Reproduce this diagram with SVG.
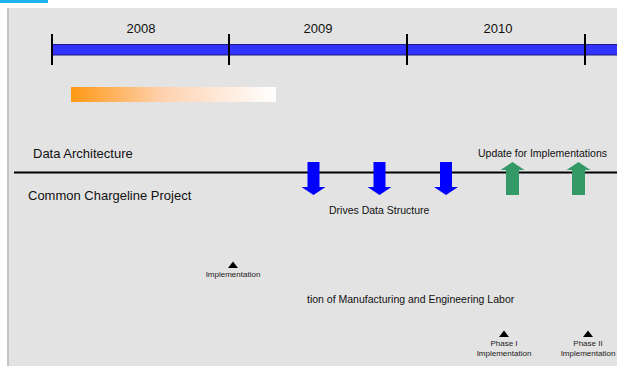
<svg xmlns="http://www.w3.org/2000/svg" width="617" height="366" viewBox="0 0 617 366">
  <defs>
    <linearGradient id="fade" x1="0" y1="0" x2="1" y2="0">
      <stop offset="0" stop-color="#ff9815"/>
      <stop offset="0.45" stop-color="#fed2b0"/>
      <stop offset="1" stop-color="#ffffff"/>
    </linearGradient>
    <style>
      text { font-family: "Liberation Sans", Arial, sans-serif; fill: #111; }
      .year { font-size: 13px; text-anchor: middle; }
      .lane { font-size: 13px; }
      .note { font-size: 10.5px; }
      .tiny { font-size: 8px; text-anchor: middle; fill: #222; }
      .tick { stroke: #000; stroke-width: 2; }
      .down { fill: #0000ff; }
      .up { fill: #339966; }
      .mark { fill: #000; }
    </style>
  </defs>

  <!-- window chrome -->
  <rect x="0" y="0" width="617" height="366" fill="#ffffff"/>
  <rect x="0" y="0" width="48" height="3" fill="#1eb2ee"/>
  <rect x="7" y="8" width="610" height="358" fill="#e3e3e3"/>
  <rect x="7" y="8" width="2" height="358" fill="#c4c4c4"/>

  <!-- timeline -->
  <g id="timeline">
    <rect x="51.5" y="44.5" width="570" height="10.5" fill="#3333ff" stroke="#1a1a80" stroke-width="1"/>
    <line class="tick" x1="52" y1="34" x2="52" y2="65"/>
    <line class="tick" x1="229" y1="34" x2="229" y2="65"/>
    <line class="tick" x1="407" y1="34" x2="407" y2="65"/>
    <line class="tick" x1="585" y1="34" x2="585" y2="65"/>
    <text class="year" x="141" y="33">2008</text>
    <text class="year" x="318" y="33">2009</text>
    <text class="year" x="498" y="33">2010</text>
  </g>

  <g id="progress">
    <rect x="71" y="87" width="205" height="15" fill="url(#fade)"/>
  </g>

  <!-- swimlanes -->
  <g id="lane-data-architecture">
    <text class="lane" x="33" y="158">Data Architecture</text>
  </g>
  <g id="lane-chargeline">
    <text class="lane" x="28" y="200">Common Chargeline Project</text>
  </g>

  <g id="connectors">
    <line x1="14" y1="172.5" x2="617" y2="172.5" stroke="#000" stroke-width="2"/>
    <!-- downward feeds -->
    <polygon class="down" points="307.5,162 319.5,162 319.5,187 325.5,187 313.5,195 301.5,187 307.5,187"/>
    <polygon class="down" points="373.5,162 385.5,162 385.5,187 391.5,187 379.5,195 367.5,187 373.5,187"/>
    <polygon class="down" points="440,162 452,162 452,187 458,187 446,195 434,187 440,187"/>
    <!-- upward updates -->
    <polygon class="up" points="512.5,162 524.5,170 519,170 519,195 506,195 506,170 500.5,170"/>
    <polygon class="up" points="578.5,162 590.5,170 585,170 585,195 572,195 572,170 566.5,170"/>
  </g>

  <g id="label-drives">
    <text class="note" x="329" y="214">Drives Data Structure</text>
  </g>
  <g id="label-update">
    <text class="note" x="478" y="157">Update for Implementations</text>
  </g>

  <g id="milestone-implementation">
    <polygon class="mark" points="233,261.5 238,268 228,268"/>
    <text class="tiny" x="233" y="277">Implementation</text>
  </g>

  <g id="label-labor">
    <text class="note" x="307" y="303">tion of Manufacturing and Engineering Labor</text>
  </g>

  <g id="milestone-phase1">
    <polygon class="mark" points="504,330.5 509,337 499,337"/>
    <text class="tiny" x="504" y="346">Phase I</text>
    <text class="tiny" x="504" y="356">Implementation</text>
  </g>
  <g id="milestone-phase2">
    <polygon class="mark" points="588,330.5 593,337 583,337"/>
    <text class="tiny" x="588" y="346">Phase II</text>
    <text class="tiny" x="588" y="356">Implementation</text>
  </g>
</svg>
